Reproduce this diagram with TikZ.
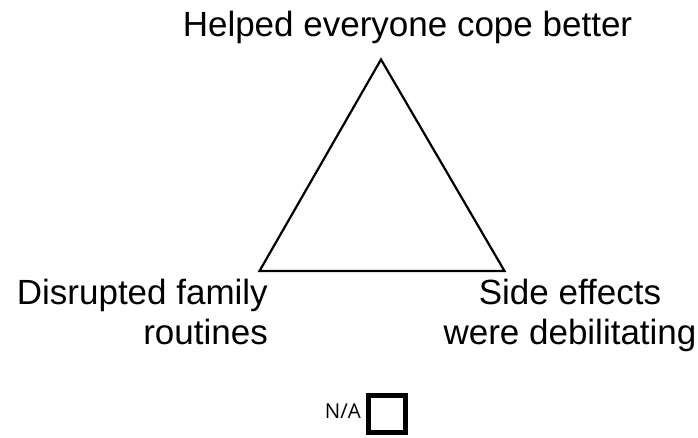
\documentclass[tikz,border=0pt]{standalone}
\usepackage{fontspec}
\setmainfont{Liberation Sans}
\newfontfamily\nafont{Open Sans}
\begin{document}
\begin{tikzpicture}[x=1pt,y=-1pt,
  lbl/.style={font=\fontsize{35}{39.5}\selectfont, inner sep=0pt},
  small/.style={font=\nafont\fontsize{20.5}{22}\selectfont, inner sep=0pt},
  tri/.style={draw=black, line width=2.2pt, line join=miter},
  box/.style={draw=black, line width=5pt, minimum size=37pt, inner sep=0pt}]
\useasboundingbox (0,0) rectangle (698,438);
\coordinate (T) at (381,59.5);
\coordinate (L) at (259.5,271);
\coordinate (R) at (504.5,271);
\draw[tri] (T) -- (L) -- (R) -- cycle;
\node[lbl, anchor=base] (top) at (407.5,37) {Helped everyone cope better};
\node[lbl, anchor=north east, align=right] (left) at (268,279) {Disrupted family\\routines};
\node[lbl, anchor=north, align=center] (right) at (570,279) {Side effects\\were debilitating};
\node[box] (na) at (387,414) {};
\node[small, anchor=base east] (natext) at (361,418) {N/A};
\end{tikzpicture}
\end{document}
